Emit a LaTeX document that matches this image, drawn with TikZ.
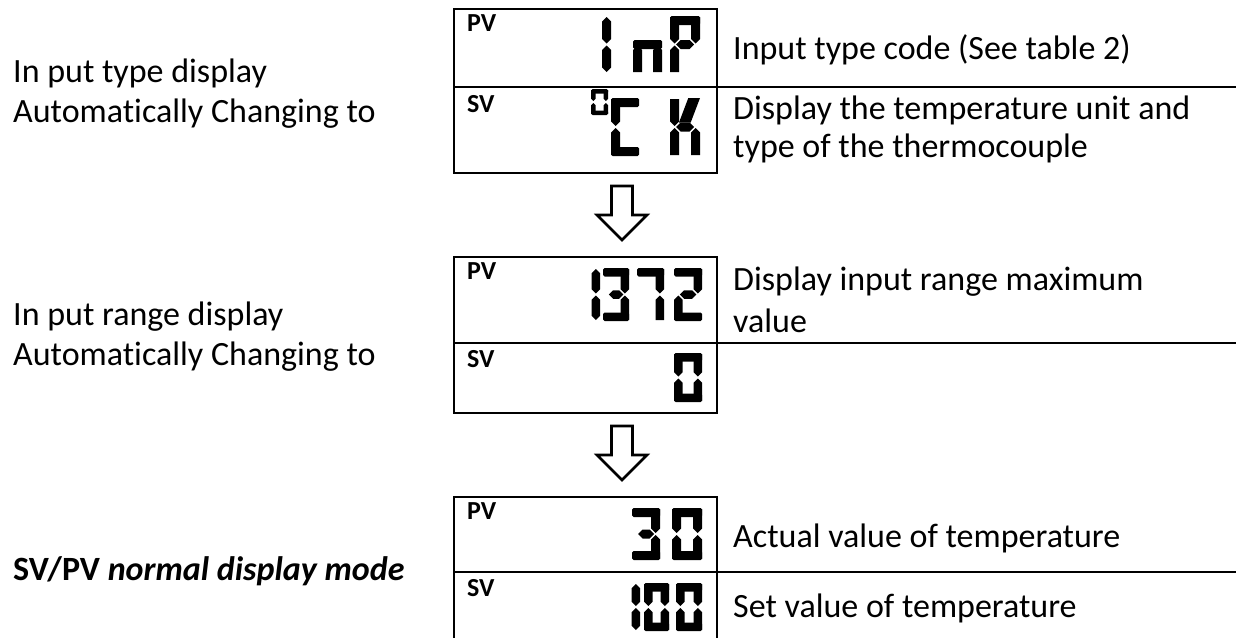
\documentclass[tikz,border=0pt]{standalone}
\usepackage{fontspec}
\setmainfont{Carlito}[Ligatures=NoCommon]
% seven-segment helpers (solid corners, notched at the middle)
\newcommand\vseg[3]{\fill ({#1},{#2}) -- ({#1+\dT/2},{#2+\dT/2}) -- ({#1+\dT/2},{#3-\dT/2}) -- ({#1},{#3}) -- ({#1-\dT/2},{#3-\dT/2}) -- ({#1-\dT/2},{#2+\dT/2}) -- cycle;}
\newcommand\dsega{\fill[rounded corners=1.5pt] ({\dX},{\dY}) rectangle ({\dX+\dW},{\dY+\dT});}
\newcommand\dsegd{\fill[rounded corners=1.5pt] ({\dX},{\dY+\dH-\dT}) rectangle ({\dX+\dW},{\dY+\dH});}
\newcommand\dsegg{\fill ({\dX+\dT/2+1.5},{\dYm}) -- ({\dX+\dT+1.5},{\dYm-\dT/2}) -- ({\dX+\dW-\dT-1.5},{\dYm-\dT/2}) -- ({\dX+\dW-\dT/2-1.5},{\dYm}) -- ({\dX+\dW-\dT-1.5},{\dYm+\dT/2}) -- ({\dX+\dT+1.5},{\dYm+\dT/2}) -- cycle;}
\newcommand\dsegh{\fill[rounded corners=1.5pt] ({\dX},{\dYm-\dT/2}) rectangle ({\dX+\dW},{\dYm+\dT/2});}
\newcommand\dsegf{\fill ({\dX},{\dY+1}) -- ({\dX+\dT},{\dY+1}) -- ({\dX+\dT},{\dYm-\dT/2-1}) -- ({\dX+\dT/2},{\dYm-1}) -- ({\dX},{\dYm-\dT/2-1}) -- cycle;}
\newcommand\dsegb{\fill ({\dX+\dW},{\dY+1}) -- ({\dX+\dW-\dT},{\dY+1}) -- ({\dX+\dW-\dT},{\dYm-\dT/2-1}) -- ({\dX+\dW-\dT/2},{\dYm-1}) -- ({\dX+\dW},{\dYm-\dT/2-1}) -- cycle;}
\newcommand\dsege{\fill ({\dX},{\dY+\dH-1}) -- ({\dX+\dT},{\dY+\dH-1}) -- ({\dX+\dT},{\dYm+\dT/2+1}) -- ({\dX+\dT/2},{\dYm+1}) -- ({\dX},{\dYm+\dT/2+1}) -- cycle;}
\newcommand\dsegc{\fill ({\dX+\dW},{\dY+\dH-1}) -- ({\dX+\dW-\dT},{\dY+\dH-1}) -- ({\dX+\dW-\dT},{\dYm+\dT/2+1}) -- ({\dX+\dW-\dT/2},{\dYm+1}) -- ({\dX+\dW},{\dYm+\dT/2+1}) -- cycle;}
% pointed single bars (for 1 and I)
\newcommand\dsegp{\vseg{\dX+\dW-\dT/2}{\dY+1}{\dYm-1}}
\newcommand\dsegq{\vseg{\dX+\dW-\dT/2}{\dYm+1}{\dY+\dH-1}}
% diagonal arm of K
\newcommand\dsegk{\fill ({\dX+\dT},{\dYm-\dT/2}) -- ({\dX+\dW-1.3*\dT},{\dY}) -- ({\dX+\dW},{\dY}) -- ({\dX+2.3*\dT},{\dYm-\dT/2}) -- cycle;}
\newcommand\dig[6]{%
  \pgfmathsetmacro\dX{#1}\pgfmathsetmacro\dY{#2}%
  \pgfmathsetmacro\dW{#3}\pgfmathsetmacro\dH{#4}\pgfmathsetmacro\dT{#5}%
  \pgfmathsetmacro\dYm{#2+#4/2}%
  \foreach \s in {#6}{\csname dseg\s\endcsname}}
\newcommand\flowarrow[2]{% #1 = centre x, #2 = top y
  \draw[flow] ({#1-10.5},{#2}) -- ({#1+10.5},{#2}) -- ({#1+10.5},{#2+29}) -- ({#1+25},{#2+29})
     -- ({#1},{#2+54}) -- ({#1-25},{#2+29}) -- ({#1-10.5},{#2+29}) -- cycle;}
\begin{document}
\begin{tikzpicture}[x=1pt,y=-1pt,
  frame/.style={line width=2.6pt, line cap=rect},
  flow/.style={line width=2.6pt, fill=white, line join=miter},
  lab/.style={font=\fontsize{26}{30}\selectfont\bfseries, anchor=base west, inner sep=0pt},
  txt/.style={font=\fontsize{34}{40}\selectfont, anchor=base west, inner sep=0pt}]
\useasboundingbox (0,0) rectangle (1244,637);

% ---------- box 1 ----------
\coordinate (b1) at (454,9);
\draw[frame] (454,9) rectangle (717,173);
\draw[frame] (454,87) -- (1235,87);
\node[lab] (pv1) at (467,31) {PV};
\node[lab] (sv1) at (467,112) {SV};
\dig{581}{16}{30}{57}{9}{p,q}
\dig{633}{16}{29}{57}{9}{h,e,c}
\dig{670}{16}{30}{57}{9}{a,b,f,g,e}
\dig{591}{89}{17}{26}{4.5}{a,b,c,d,e,f}
\dig{611}{98}{28}{58}{9}{a,d,e,f}
\dig{670}{98}{30}{58}{9}{f,e,g,c,k}

% ---------- arrow 1 ----------
\flowarrow{622}{186}

% ---------- box 2 ----------
\coordinate (b2) at (454,257);
\draw[frame] (454,257) rectangle (717,413);
\draw[frame] (454,343) -- (1235,343);
\node[lab] (pv2) at (467,279) {PV};
\node[lab] (sv2) at (467,367) {SV};
\dig{570}{268}{30}{53}{8.5}{p,q}
\dig{603}{268}{26}{53}{8.5}{a,b,g,c,d}
\dig{637}{268}{27}{53}{8.5}{a,b,c}
\dig{674}{268}{28}{53}{8.5}{a,b,g,e,d}
\dig{674}{353}{28}{49}{8.5}{a,b,c,d,e,f}

% ---------- arrow 2 ----------
\flowarrow{622}{426}

% ---------- box 3 ----------
\coordinate (b3) at (454,497);
\draw[frame] (454,645) -- (454,497) -- (717,497) -- (717,645);
\draw[frame] (454,572) -- (1235,572);
\node[lab] (pv3) at (467,519) {PV};
\node[lab] (sv3) at (467,596) {SV};
\dig{632}{508}{28}{52}{9}{a,b,g,c,d}
\dig{672}{508}{30}{52}{9}{a,b,c,d,e,f}
\dig{610}{583}{30}{48}{8.5}{p,q}
\dig{644}{583}{25}{48}{8.5}{a,b,c,d,e,f}
\dig{676}{583}{26}{48}{8.5}{a,b,c,d,e,f}

% ---------- left texts ----------
\node[txt] (l1a) at (13,82) {In put type display};
\node[txt] (l1b) at (13,122) {Automatically Changing to};
\node[txt] (l2a) at (13,325) {In put range display};
\node[txt] (l2b) at (13,365) {Automatically Changing to};
\node[txt] (l3) at (13,580) {\textbf{SV/PV} \textbf{\textit{normal display mode}}};

% ---------- right texts ----------
\node[txt] (r1) at (733,59) {Input type code (See table 2)};
\node[txt] (r2a) at (733,119) {Display the temperature unit and};
\node[txt] (r2b) at (733,157) {type of the thermocouple};
\node[txt] (r3a) at (733,290) {Display input range maximum};
\node[txt] (r3b) at (733,332) {value};
\node[txt] (r5) at (733,547) {Actual value of temperature};
\node[txt] (r6) at (733,617) {Set value of temperature};
\end{tikzpicture}
\end{document}
